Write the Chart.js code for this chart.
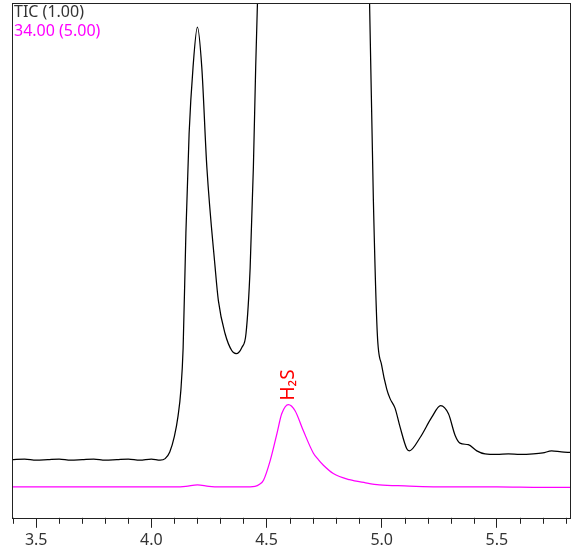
<!DOCTYPE html>
<html>
<head>
<meta charset="utf-8">
<script src="https://cdn.jsdelivr.net/npm/chart.js@4/dist/chart.umd.min.js"></script>
<style>
  html, body { margin: 0; padding: 0; background: #fff; }
  #wrap { width: 573px; height: 556px; }
</style>
</head>
<body>
<div id="wrap"><canvas id="chromChart" width="573" height="556"></canvas></div>
<script>
// retention time (min) / relative intensity
var ticTimes = [3.395, 3.45, 3.5, 3.55, 3.6, 3.65, 3.7, 3.75, 3.8, 3.85, 3.9, 3.95, 4.0, 4.038, 4.06,
    4.08, 4.1, 4.116, 4.128, 4.138, 4.150, 4.164, 4.181, 4.2, 4.219, 4.241, 4.277, 4.291, 4.320, 4.349,
    4.368, 4.393, 4.411, 4.429, 4.443, 4.453, 4.462, 4.48, 4.55, 4.7, 4.85, 4.93, 4.947, 4.964, 4.981,
    5.0, 5.022, 5.036, 5.058, 5.08, 5.109, 5.12, 5.167, 5.217, 5.256, 5.29, 5.319, 5.34, 5.376, 5.413,
    5.449, 5.5, 5.55, 5.6, 5.658, 5.7, 5.738, 5.78, 5.822];
var ticValues = [11.3, 11.4, 11.2, 11.3, 11.4, 11.2, 11.3, 11.4, 11.2, 11.3, 11.4, 11.2, 11.4, 11.2, 11.5,
    12.8, 15.8, 19.8, 24.7, 33.0, 55.3, 74.7, 87.5, 95.3, 87.5, 68.1, 48.6, 42.2, 35.8, 32.5,
    31.9, 33.1, 35.8, 48.6, 68.1, 87.5, 102, 130, 220, 300, 220, 130, 101, 61.7, 35.8,
    29.6, 25.0, 23.2, 21.3, 17.6, 13.4, 13.0, 15.6, 19.5, 21.8, 20.2, 16.0, 14.5, 14.2, 13.0,
    12.4, 12.3, 12.4, 12.3, 12.4, 12.6, 13.0, 12.8, 12.7];

var mzTimes = [3.395, 3.5, 3.6, 3.7, 3.8, 3.9, 4.0, 4.1, 4.15, 4.2, 4.25, 4.3, 4.4, 4.45, 4.47, 4.487,
    4.516, 4.545, 4.566, 4.595, 4.624, 4.66, 4.703, 4.725, 4.747, 4.79, 4.86, 4.93, 4.99, 5.1, 5.3,
    5.5, 5.7, 5.822];
var mzValues = [6.0, 6.0, 6.0, 6.0, 6.0, 6.0, 6.0, 6.0, 6.1, 6.4, 6.1, 6.0, 6.0, 6.1, 6.5, 7.3,
    11.1, 16.3, 20.2, 22.0, 20.8, 16.9, 12.6, 11.3, 10.2, 8.6, 7.4, 6.8, 6.4, 6.2, 6.0,
    6.0, 5.9, 5.9];

var seriesNames = ['TIC (1.00)', '34.00 (5.00)'];
var seriesColors = ['#000000', '#ff00ff'];

var majorTicks = [3.5, 4.0, 4.5, 5.0, 5.5];
var minorTicks = [3.4, 3.6, 3.7, 3.8, 3.9, 4.1, 4.2, 4.3, 4.4, 4.6, 4.7, 4.8, 4.9,
    5.1, 5.2, 5.3, 5.4, 5.6, 5.7, 5.8];

var peakLabel = { text: 'H\u2082S', x: 4.595, y: 22.0 };

var xMin = 3.395, xMax = 5.822;

function toPoints(xs, ys) {
    return xs.map(function(x, i) { return { x: x, y: ys[i] }; });
}

var frameAndNotes = {
    id: 'frameAndNotes',
    afterDraw: function(chart) {
        var ctx = chart.ctx;
        var a = chart.chartArea;
        var xs = chart.scales.x;
        var ys = chart.scales.y;
        ctx.save();

        // plot frame
        ctx.strokeStyle = '#222';
        ctx.lineWidth = 1;
        ctx.strokeRect(Math.round(a.left) + 0.5, Math.round(a.top) + 0.5,
            Math.round(a.right - a.left) - 1, Math.round(a.bottom - a.top));

        // minor ticks
        ctx.beginPath();
        minorTicks.forEach(function(v) {
            var px = Math.round(xs.getPixelForValue(v)) + 0.5;
            ctx.moveTo(px, a.bottom);
            ctx.lineTo(px, a.bottom + 6);
        });
        ctx.stroke();

        // trace names, top left
        ctx.font = '16px "Noto Sans", "DejaVu Sans", sans-serif';
        ctx.textAlign = 'left';
        ctx.textBaseline = 'top';
        ctx.fillStyle = '#333';
        ctx.fillText(seriesNames[0], a.left + 2, a.top + 1);
        ctx.fillStyle = seriesColors[1];
        ctx.fillText(seriesNames[1], a.left + 2, a.top + 20);

        // peak label
        var lx = xs.getPixelForValue(peakLabel.x);
        var ly = ys.getPixelForValue(peakLabel.y);
        ctx.translate(lx, ly - 4);
        ctx.rotate(-Math.PI / 2);
        ctx.fillStyle = '#ff0000';
        ctx.font = '19px "Noto Sans", "DejaVu Sans", sans-serif';
        ctx.textBaseline = 'middle';
        ctx.fillText(peakLabel.text, 0, 0);
        ctx.restore();
    }
};

var config = {
    type: 'line',
    data: {
        datasets: [
            {
                label: seriesNames[0],
                data: toPoints(ticTimes, ticValues),
                borderColor: seriesColors[0],
                borderWidth: 1.25,
                pointRadius: 0,
                cubicInterpolationMode: 'monotone'
            },
            {
                label: seriesNames[1],
                data: toPoints(mzTimes, mzValues),
                borderColor: seriesColors[1],
                borderWidth: 1.25,
                pointRadius: 0,
                cubicInterpolationMode: 'monotone'
            }
        ]
    },
    options: {
        responsive: false,
        animation: false,
        layout: { padding: { left: 12, right: 2, top: 3, bottom: 3 } },
        plugins: {
            legend: { display: false },
            tooltip: { enabled: false }
        },
        scales: {
            x: {
                type: 'linear',
                min: xMin,
                max: xMax,
                afterBuildTicks: function(scale) {
                    scale.ticks = majorTicks.map(function(v) { return { value: v }; });
                },
                grid: {
                    drawOnChartArea: false,
                    tickLength: 10,
                    color: '#222'
                },
                border: { display: false },
                ticks: {
                    autoSkip: false,
                    maxRotation: 0,
                    padding: 3,
                    color: '#333',
                    font: { family: '"Noto Sans", "DejaVu Sans", sans-serif', size: 16 },
                    callback: function(v) { return v.toFixed(1); }
                }
            },
            y: {
                display: false,
                min: 0,
                max: 100
            }
        }
    },
    plugins: [frameAndNotes]
};

var ctx = document.getElementById('chromChart').getContext('2d');
new Chart(ctx, config);
</script>
</body>
</html>
